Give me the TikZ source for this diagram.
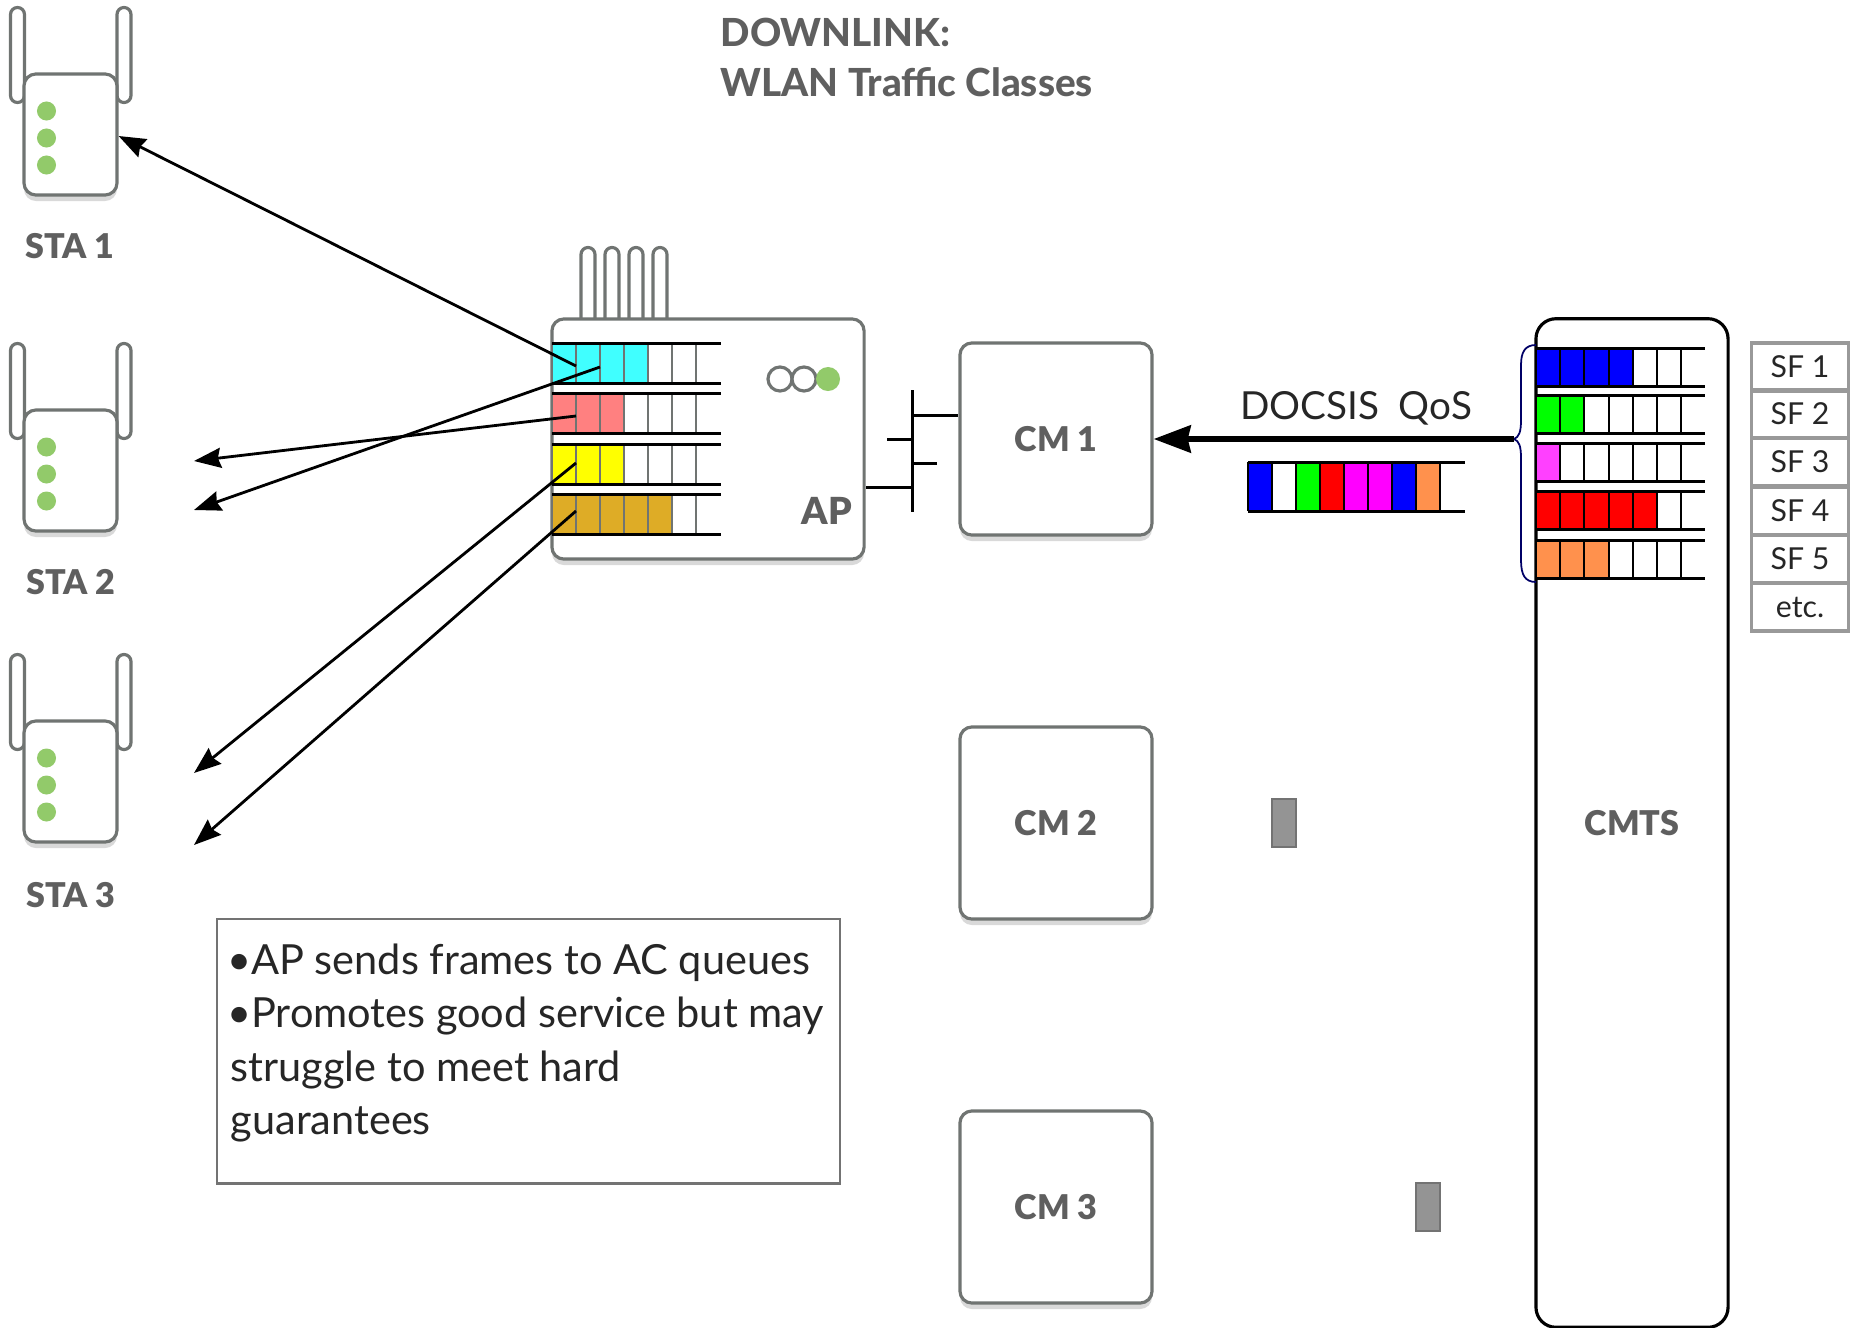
\documentclass[tikz,border=0pt]{standalone}
\usepackage{fontspec}
\usepackage{xcolor}
\setmainfont{Lato}
\newfontfamily\labelfont[UprightFont={* Black}]{Lato}
\newfontfamily\titlefont[UprightFont={* Heavy}]{Lato}
\usetikzlibrary{arrows.meta}
\usetikzlibrary{shadows}
\definecolor{box_gray}{HTML}{707472}
\definecolor{text_gray}{HTML}{5F5F5F}
\definecolor{led_green}{HTML}{92CA6A}
\definecolor{ac_cyan}{HTML}{40FFFF}
\definecolor{ac_salmon}{HTML}{FF8080}
\definecolor{ac_gold}{HTML}{DEAC26}
\definecolor{ac_yellow}{HTML}{FFFF00}
\definecolor{sf_blue}{HTML}{0000FF}
\definecolor{sf_green}{HTML}{00FF00}
\definecolor{sf_red}{HTML}{FF0000}
\definecolor{sf_magenta}{HTML}{FF00FF}
\definecolor{sf_pink}{HTML}{FF40FF}
\definecolor{sf_orange}{HTML}{FF914D}
\tikzset{
    device/.style = {draw=box_gray, fill=white, rounded corners=0.12cm, line width=0.9pt, inner sep=0pt, align=center,
        font=\fontsize{9.7}{12}\labelfont, text=text_gray,
        general shadow={fill=black!15, shadow yshift=-0.06cm}},
    cm_node/.style = {device, minimum width=1.92cm, minimum height=1.92cm},
    sta_body/.style = {device, minimum width=0.93cm, minimum height=1.21cm},
    antenna/.style = {draw=box_gray, fill=white, rounded corners=0.07cm, line width=0.9pt, minimum width=0.14cm, inner sep=0pt},
    led/.style = {circle, fill=led_green, minimum size=0.19cm, inner sep=0pt},
    ring/.style = {circle, draw=box_gray, fill=white, line width=0.9pt, minimum size=0.24cm, inner sep=0pt},
    dev_label/.style = {font=\fontsize{9.7}{12}\labelfont, text=text_gray, inner sep=0pt},
    sf_cell/.style = {draw=black!40, line width=0.9pt, minimum width=0.97cm, minimum height=0.48cm, inner sep=0pt, font=\fontsize{8.6}{10}\selectfont, text=black!85},
    packet/.style = {draw=black!55, fill=black!42, line width=0.6pt, minimum width=0.24cm, minimum height=0.48cm, inner sep=0pt},
    wifi_arrow/.style = {-{Stealth[length=0.27cm, width=0.2cm, inset=0.03cm]}, line width=0.8pt},
    main_arrow/.style = {-{Stealth[length=0.37cm, width=0.27cm, inset=0.03cm]}, line width=1.7pt},
    queue_line/.style = {line width=0.85pt},
}

\begin{document}
\begin{tikzpicture}[x=0.01cm, y=-0.01cm]
    \useasboundingbox (0,0) rectangle (1858,1327);

    \node [dev_label, anchor=west, align=left, font=\fontsize{11}{14.2}\titlefont] (title) at (720,57) {DOWNLINK:\\WLAN Traffic Classes};

    % stations
    \foreach \i/\dy in {1/0, 2/336, 3/647} {
        \node [antenna, minimum height=0.95cm] (sta_\i_ant_a) at (17.5,55+\dy) {};
        \node [antenna, minimum height=0.95cm] (sta_\i_ant_b) at (124,55+\dy) {};
        \node [sta_body] (sta_\i) at (70.5,134.5+\dy) {};
        \node [led] (sta_\i_led_a) at (46.5,111+\dy) {};
        \node [led] (sta_\i_led_b) at (46.5,138+\dy) {};
        \node [led] (sta_\i_led_c) at (46.5,165+\dy) {};
    }
    \node [dev_label] (sta_1_label) at (70,246) {STA 1};
    \node [dev_label] (sta_2_label) at (71,582) {STA 2};
    \node [dev_label] (sta_3_label) at (71,895) {STA 3};

    % access point
    \foreach \i/\x in {1/588, 2/612, 3/636, 4/660} {
        \node [antenna, minimum height=0.83cm] (ap_ant_\i) at (\x,289) {};
    }
    \node [device, minimum width=3.12cm, minimum height=2.4cm] (ap) at (708,439) {};
    \foreach \ytop/\n/\col in {343/4/ac_cyan, 393/3/ac_salmon, 444/3/ac_yellow, 494/5/ac_gold} {
        \fill [\col] (552,\ytop) rectangle ++(24*\n,40);
        \foreach \x in {552,576,600,624,648,672,696} {
            \draw [box_gray, line width=0.7pt] (\x,\ytop) -- ++(0,40);
        }
        \draw [queue_line] (552,\ytop) -- ++(169,0);
        \draw [queue_line] (552,\ytop+40) -- ++(169,0);
    }
    \node [ring] (ap_ring_a) at (780,379) {};
    \node [ring] (ap_ring_b) at (804,379) {};
    \node [led, minimum size=0.24cm] (ap_led) at (828,379) {};
    \node [dev_label, font=\fontsize{10.6}{12}\labelfont] (ap_label) at (827,511) {AP};

    % modems
    \node [cm_node] (cm_1) at (1056,439) {CM 1};
    \node [cm_node] (cm_2) at (1056,823) {CM 2};
    \node [cm_node] (cm_3) at (1056,1207) {CM 3};

    \coordinate (bus_top) at (912,390);
    \coordinate (bus_bot) at (912,512);
    \coordinate (bus_a) at (912,415);
    \coordinate (bus_b) at (887,439);
    \coordinate (bus_c) at (937,463);
    \coordinate (bus_d) at (912,487);
    \draw [line width=0.85pt] (bus_top) -- (bus_bot);
    \draw [line width=0.85pt] (bus_a) -- (bus_a -| cm_1.west);
    \draw [line width=0.85pt] (bus_b) -- (bus_b -| bus_top);
    \draw [line width=0.85pt] (bus_c) -- (bus_c -| bus_top);
    \draw [line width=0.85pt] (bus_d) -- (bus_d -| ap.east);

    % cmts
    \node [draw, fill=white, rounded corners=0.2cm, line width=0.9pt, minimum width=1.92cm, minimum height=10.08cm, inner sep=0pt,
        font=\fontsize{9.7}{12}\labelfont, text=text_gray] (cmts) at (1632,823) {CMTS};
    \foreach \ytop/\n/\col in {348/4/sf_blue, 395/2/sf_green, 443/1/sf_pink, 491/5/sf_red, 540/3/sf_orange} {
        \fill [\col] (1536,\ytop) rectangle ++(24.3*\n,38);
        \foreach \x in {1536,1560,1584,1609,1633,1657,1681} {
            \draw [line width=0.8pt] (\x,\ytop) -- ++(0,38);
        }
        \draw [queue_line] (1536,\ytop) -- ++(169,0);
        \draw [queue_line] (1536,\ytop+38) -- ++(169,0);
    }

    \foreach \i/\y/\txt in {1/367/SF 1, 2/414/SF 2, 3/462/SF 3, 4/511/SF 4, 5/559/SF 5, 6/607/etc.} {
        \node [sf_cell] (sf_\i) at (1800,\y) {\txt};
    }

    % downstream
    \coordinate (brace_tip) at (1514,439);
    \draw [draw=blue!40!black, line width=0.5pt] (1536,345) .. controls (1525,345) and (1521,352) .. (1521,365) -- (1521,420)
        .. controls (1521,432) and (1519,437) .. (brace_tip) .. controls (1519,441) and (1521,446) .. (1521,458) -- (1521,560)
        .. controls (1521,575) and (1525,582) .. (1536,582);
    \draw [main_arrow] (brace_tip) -- (cm_1.east);
    \node [font=\fontsize{11}{12}\selectfont, text=black!85, inner sep=0pt] (docsis) at (1356,408) {DOCSIS\ \ QoS};

    \foreach \i/\col in {0/sf_blue, 1/white, 2/sf_green, 3/sf_red, 4/sf_magenta, 5/sf_magenta, 6/sf_blue, 7/sf_orange} {
        \fill [\col] (1248+24*\i,462) rectangle ++(24,49);
        \draw [line width=0.8pt] (1248+24*\i,462) -- ++(0,49);
    }
    \draw [line width=0.8pt] (1440,462) -- ++(0,49);
    \draw [queue_line] (1248,462) -- (1465,462);
    \draw [queue_line] (1248,511) -- (1465,511);

    \node [packet] (pkt_2) at (1284,823) {};
    \node [packet] (pkt_3) at (1428,1207) {};

    % wifi frames
    \coordinate (q_1a) at (576,366);
    \coordinate (q_1b) at (600,367);
    \coordinate (q_2) at (576,416);
    \coordinate (q_3) at (576,463);
    \coordinate (q_4) at (576,511);
    \coordinate (sta_2_a) at (194,461);
    \coordinate (sta_2_b) at (194,510);
    \coordinate (sta_3_a) at (194,773);
    \coordinate (sta_3_b) at (194,845);
    \draw [wifi_arrow] (q_1a) -- (sta_1.east |- 0,136);
    \draw [wifi_arrow] (q_2) -- (sta_2_a);
    \draw [wifi_arrow] (q_1b) -- (sta_2_b);
    \draw [wifi_arrow] (q_3) -- (sta_3_a);
    \draw [wifi_arrow] (q_4) -- (sta_3_b);

    % note
    \node [draw=black!55, line width=0.7pt, anchor=north west, minimum width=6.23cm, minimum height=2.64cm, inner sep=0pt] (note_box) at (215.5,918) {};
    \node [anchor=north west, align=left, inner sep=0pt, font=\fontsize{11.8}{15.2}\selectfont, text=black!85] (note) at (230,943)
        {\kern-1pt•AP sends frames to AC queues\\\kern-1pt•Promotes good service but may\\struggle to meet hard\\guarantees};
\end{tikzpicture}
\end{document}
